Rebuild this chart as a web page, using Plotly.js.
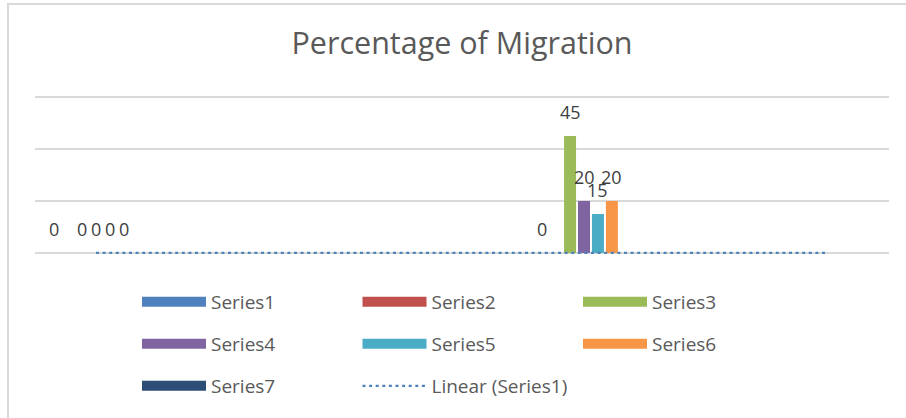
<!DOCTYPE html>
<html><head><meta charset="utf-8">
<script src="https://cdn.plot.ly/plotly-3.0.1.min.js"></script>
<style>
html,body{margin:0;padding:0;background:#fff;overflow:hidden}
#chart{width:906px;height:418px}
#frame{position:absolute;left:7px;top:3px;width:1000px;height:1000px;border-top:2px solid #d9d9d9;border-left:2px solid #d9d9d9;pointer-events:none}
</style></head><body>
<div id="chart"></div><div id="frame"></div>
<script>
// ---- data ----
const categories = [1, 2, 3, 4, 5, 6, 7];
const seriesNames = ['Series1', 'Series2', 'Series3', 'Series4', 'Series5', 'Series6', 'Series7'];
const series1 = [0, null, null, null, 0, null, null];
const series2 = [null, null, null, null, null, null, null];
const series3 = [0, null, null, null, 45, null, null];
const series4 = [0, null, null, null, 20, null, null];
const series5 = [0, null, null, null, 15, null, null];
const series6 = [0, null, null, null, 20, null, null];
const series7 = [null, null, null, null, null, null, null];
const trendName = 'Linear (Series1)';
const chartTitle = 'Percentage of Migration';
const yTicks = [0, 20, 40, 60];

// ---- styles ----
const seriesColors = ['#4f81bd', '#c0504d', '#9bbb59', '#8064a2', '#4bacc6', '#f79646', '#2c4d75'];
const allSeries = [series1, series2, series3, series4, series5, series6, series7];
const legendRow = ['legend', 'legend', 'legend', 'legend2', 'legend2', 'legend2', 'legend3'];
const FONT = 'Open Sans, Liberation Sans, sans-serif';
const bargap = 0.2;

const traces = [];
allSeries.forEach((vals, i) => {
  traces.push({
    type: 'bar', x: categories, y: vals, name: seriesNames[i],
    marker: {color: seriesColors[i]}, offsetgroup: 'g' + i,
    legendgroup: 'g' + i, showlegend: false, hoverinfo: 'skip'
  });
});
// legend entries (wide swatches, Excel style)
allSeries.forEach((vals, i) => {
  traces.push({
    type: 'scatter', mode: 'lines', x: [null], y: [null], name: seriesNames[i],
    line: {color: seriesColors[i], width: 13}, legendgroup: 'g' + i,
    legend: legendRow[i], showlegend: true, hoverinfo: 'skip'
  });
});

// linear trendline of Series1 (least squares over its points)
const pts = categories.map((c, j) => [c, series1[j]]).filter(p => p[1] !== null);
const mx = pts.reduce((s, p) => s + p[0], 0) / pts.length;
const my = pts.reduce((s, p) => s + p[1], 0) / pts.length;
const sxx = pts.reduce((s, p) => s + (p[0] - mx) ** 2, 0);
const sxy = pts.reduce((s, p) => s + (p[0] - mx) * (p[1] - my), 0);
const slope = sxx ? sxy / sxx : 0;
const icpt = my - slope * mx;
const tx = [categories[0], categories[categories.length - 1]];
traces.push({
  type: 'scatter', mode: 'lines', x: tx, y: tx.map(x => icpt + slope * x),
  name: trendName, line: {color: '#4f81bd', width: 2.2, dash: '3px,3.6px'},
  legend: 'legend3', showlegend: true, hoverinfo: 'skip'
});

// data labels
const n = allSeries.length;
const slot = (1 - bargap) / n;
const annotations = [];
allSeries.forEach((vals, i) => {
  vals.forEach((v, j) => {
    if (v === null) return;
    annotations.push({
      x: categories[j] + (i - (n - 1) / 2) * slot, y: v, xref: 'x', yref: 'y',
      text: String(v), showarrow: false, yanchor: 'middle', yshift: 24,
      font: {family: FONT, size: 18, color: '#404040'}
    });
  });
});

const legendBase = {
  orientation: 'h', xref: 'container', yref: 'container', xanchor: 'left', yanchor: 'middle',
  entrywidth: 141.5, entrywidthmode: 'pixels', itemwidth: 64,
  font: {family: FONT, size: 19, color: '#595959'}, bgcolor: 'rgba(0,0,0,0)',
  x: 137 / 906
};

const layout = {
  width: 906, height: 418,
  margin: {l: 35, r: 17, t: 96, b: 164},
  paper_bgcolor: '#ffffff', plot_bgcolor: '#ffffff',
  font: {family: FONT, color: '#595959'},
  title: {text: chartTitle, font: {family: FONT, size: 30.5, color: '#595959'},
          x: 0.5, xref: 'paper', xanchor: 'center', y: 1 - 43 / 418, yref: 'container', yanchor: 'middle'},
  barmode: 'group', bargap: bargap, bargroupgap: 0.14,
  xaxis: {range: [0.5, 7.5], showgrid: false, zeroline: false, showticklabels: false, ticks: '',
          showline: false, fixedrange: true},
  yaxis: {range: [-0.4, 60.4], tickvals: yTicks, showgrid: true, gridcolor: '#d9d9d9', gridwidth: 1.5,
          zeroline: false, showticklabels: false, ticks: '', showline: false, fixedrange: true},
  legend: Object.assign({}, legendBase, {y: 1 - 302 / 418}),
  legend2: Object.assign({}, legendBase, {y: 1 - 344 / 418}),
  legend3: Object.assign({}, legendBase, {y: 1 - 386 / 418}),
  annotations: annotations,
  showlegend: true, hovermode: false
};

Plotly.newPlot('chart', traces, layout, {displayModeBar: false, staticPlot: true});
</script>
</body></html>
